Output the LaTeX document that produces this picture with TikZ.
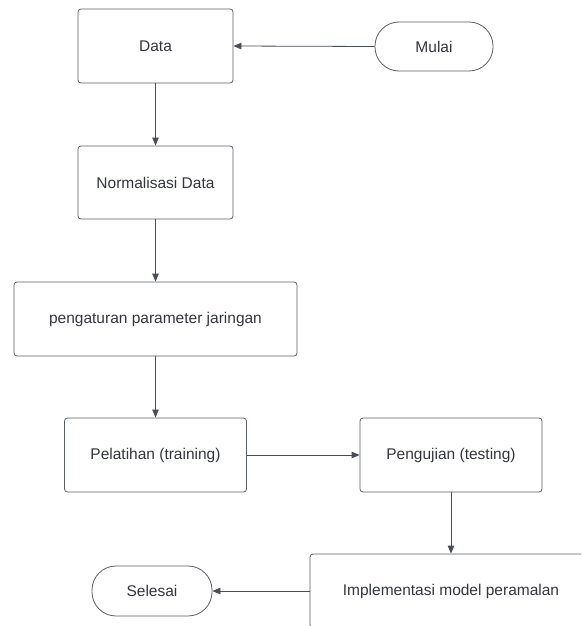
\documentclass[tikz,border=0pt]{standalone}
\usepackage{fontspec}
\setmainfont{Liberation Sans}
\usetikzlibrary{arrows.meta}
\definecolor{linec}{HTML}{4A4E57}
\definecolor{boxc}{HTML}{5A5E66}
\definecolor{textc}{HTML}{33363C}
\tikzset{
  x=1pt,y=-1pt,
  box/.style={draw=boxc,line width=0.8pt,rounded corners=3pt,fill=white,text=textc,font=\fontsize{15.5}{18}\selectfont,inner sep=0pt},
  term/.style={draw=boxc,line width=0.8pt,rounded corners=24pt,fill=white,text=textc,font=\fontsize{15.5}{18}\selectfont,inner sep=0pt},
  conn/.style={draw=linec,line width=0.8pt,-{Triangle[length=8pt,width=6.5pt]}}
}
\begin{document}
\begin{tikzpicture}
\useasboundingbox (0,0) rectangle (581,626);
\begin{scope}
\clip (0,0) rectangle (581,626);
\node[box,minimum width=155pt,minimum height=74pt] (data) at (155.5,46) {Data};
\node[term,minimum width=118pt,minimum height=49pt] (mulai) at (434,46.5) {Mulai};
\node[box,minimum width=155pt,minimum height=73pt] (norm) at (155.5,182.5) {Normalisasi Data};
\node[box,minimum width=283pt,minimum height=74pt] (param) at (155.5,319) {pengaturan parameter jaringan};
\node[box,minimum width=182pt,minimum height=74pt] (train) at (155.5,455) {Pelatihan (training)};
\node[box,minimum width=182pt,minimum height=74pt] (test) at (451,455) {Pengujian (testing)};
\node[box,minimum width=282pt,minimum height=74pt] (impl) at (451,591) {Implementasi model peramalan};
\node[term,minimum width=120pt,minimum height=50pt] (selesai) at (152,591) {Selesai};
\draw[conn] (mulai.west) -- (data.east);
\draw[conn] (data.south) -- (norm.north);
\draw[conn] (norm.south) -- (param.north);
\draw[conn] (param.south) -- (train.north);
\draw[conn] (train.east) -- (test.west);
\draw[conn] (test.south) -- (impl.north);
\draw[conn] (impl.west) -- (selesai.east);
\end{scope}
\end{tikzpicture}
\end{document}
